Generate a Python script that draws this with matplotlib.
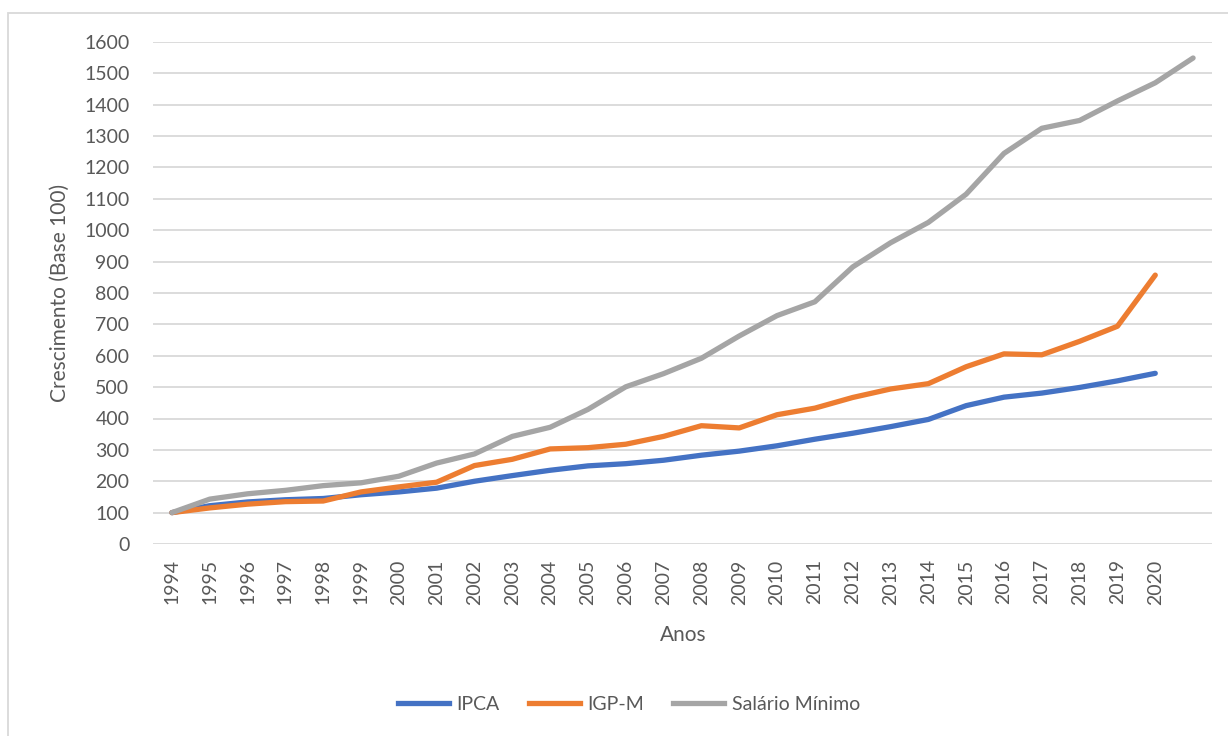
import matplotlib
matplotlib.use("Agg")
import matplotlib.pyplot as plt
from matplotlib.lines import Line2D

anos = [str(a) for a in range(1994, 2021)] + [""]

ipca = [100, 122, 134, 141, 145, 157, 166, 178, 200, 218, 235, 249, 256, 267,
        283, 296, 313, 334, 353, 374, 397, 441, 468, 481, 499, 520, 544]
igpm = [100, 115, 127, 135, 137, 166, 182, 197, 250, 270, 303, 307, 318, 343,
        377, 370, 412, 433, 467, 494, 511, 565, 606, 603, 646, 694, 857]
salario = [100, 143, 160, 171, 186, 195, 216, 258, 287, 343, 372, 429, 501, 543,
           592, 663, 728, 772, 883, 960, 1025, 1115, 1245, 1325, 1350, 1412, 1470, 1549]

series_names = ["IPCA", "IGP-M", "Salário Mínimo"]
colors = ["#4472C4", "#ED7D31", "#A5A5A5"]
yticks = list(range(0, 1700, 100))

plt.rcParams['font.family'] = ['Lato', 'DejaVu Sans']
txt = "#595959"

fig = plt.figure(figsize=(12.28, 7.36), dpi=100)
ax = fig.add_axes([153/1228, 1 - 544/736, (1212 - 153)/1228, (544 - 42)/736])

for vals, c, n in zip([ipca, igpm, salario], colors, series_names):
    ax.plot(range(len(vals)), vals, color=c, lw=3.8, solid_capstyle='round',
            solid_joinstyle='round', label=n, zorder=3)

ax.set_xlim(-0.5, len(anos) - 0.5)
ax.set_ylim(0, 1600)
ax.set_yticks(yticks)
ax.set_yticklabels([str(v) for v in yticks], fontsize=14, color=txt)
ax.set_xticks(range(len(anos)))
ax.set_xticklabels(anos, rotation=90, fontsize=14, color=txt)
ax.tick_params(axis='y', length=0, pad=17)
ax.tick_params(axis='x', length=0, pad=11)
ax.grid(axis='y', color='#D9D9D9', lw=1.3, zorder=0)
ax.set_axisbelow(True)
for s in ax.spines.values():
    s.set_visible(False)

fig.text(60/1228, 1 - 293/736, "Crescimento (Base 100)", rotation=90,
         ha='center', va='center', fontsize=15, color=txt)
fig.text(683/1228, 1 - 635/736, "Anos", ha='center', va='center',
         fontsize=15, color=txt)

handles = [Line2D([0], [0], color=c, lw=3.8) for c in colors]
fig.legend(handles, series_names, loc='center', bbox_to_anchor=(629/1228, 1 - 704/736),
           ncol=3, frameon=False, fontsize=14, labelcolor=txt, handlelength=2.6,
           handletextpad=0.4, columnspacing=1.5)

# chart border
fig.add_artist(plt.Rectangle((8/1228, -0.05), 1.2, 1 - 13/736 + 0.05,
                             transform=fig.transFigure, fill=False,
                             edgecolor='#D9D9D9', lw=1.3))

fig.savefig("out.png", dpi=100, facecolor='white')
